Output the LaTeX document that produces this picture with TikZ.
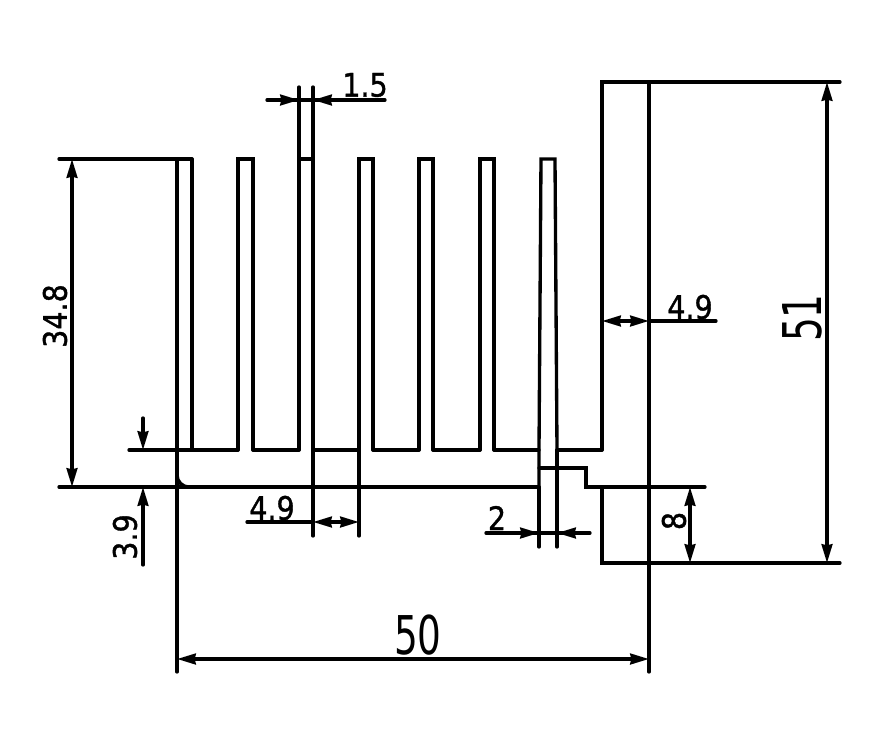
\documentclass[tikz,border=0pt]{standalone}
\usepackage{fontspec}
\setsansfont{DejaVu Sans}
\newfontfamily\dimfont[FakeBold=1.2]{DejaVu Sans}
\usetikzlibrary{arrows.meta}

\begin{document}
\begin{tikzpicture}[x=0.03cm,y=-0.03cm,
			line width=1mm,
			line cap=round,
			>={Stealth[length=5.6mm,width=3.2mm,inset=0.3mm]},
			dimlabel/.style={
				font = \dimfont\fontsize{23}{23}\selectfont,
				inner sep = 0mm,
				xscale = 1.06,
				yscale = 1.2,
				color = black},
			dimlabelup/.style={rotate = 90, dimlabel},
			biglabel/.style={
				font = \sffamily\fontsize{38}{38}\selectfont,
				inner sep = 0mm,
				xscale = 0.84,
				yscale = 1.2,
				color = black},
			biglabelup/.style={rotate = 90, biglabel}]
			\useasboundingbox (0, 0) rectangle (890, 752);
			% fins
			\foreach \l/\r in {238/253, 359/373, 419/433, 480/494}{
				\draw (\l, 450) -- (\l, 159) -- (\r, 159) -- (\r, 450);
			}
			\draw (192, 450) -- (192, 159);
			\draw (299, 159) -- (313, 159);
			\draw (539, 487) -- (539, 450) -- (541, 159) -- (555, 159) -- (557, 450);
			% base between the fins
			\draw (129, 450) -- (238, 450);
			\foreach \l/\r in {253/299, 313/359, 373/419, 433/480, 494/539, 557/602}{
				\draw (\l, 450) -- (\r, 450);
			}
			\draw (59, 487) -- (539, 487);
			\draw (177, 475) arc [start angle = 180, end angle = 90, radius = 12];
			\draw (539, 468) -- (586, 468) -- (586, 487) -- (705, 487);
			% right block
			\draw (602, 450) -- (602, 82) -- (840, 82);
			\draw (602, 487) -- (602, 563) -- (840, 563);
			% long extension lines
			\draw (59, 159) -- (192, 159);
			\draw (177, 159) -- (177, 672);
			\draw (649, 82) -- (649, 672);
			\draw (299, 87) -- (299, 450);
			\draw (313, 87) -- (313, 536);
			\draw (359, 450) -- (359, 536);
			\draw (539, 487) -- (539, 547);
			\draw (557, 450) -- (557, 547);
			% dimensions
			\draw (267, 100) -- (385, 100);
			\draw[->] (270, 100) -- (299, 100);
			\draw[->] (380, 100) -- (313, 100);
			\draw[->] (72, 323) -- (72, 159);
			\draw[->] (72, 323) -- (72, 487);
			\draw[->] (143, 418) -- (143, 450);
			\draw[->] (143, 565) -- (143, 487);
			\draw (247, 522) -- (313, 522);
			\draw[->] (336, 522) -- (313, 522);
			\draw[->] (336, 522) -- (359, 522);
			\draw (486, 533) -- (590, 533);
			\draw[->] (490, 533) -- (539, 533);
			\draw[->] (586, 533) -- (557, 533);
			\draw (649, 321) -- (716, 321);
			\draw[->] (625, 321) -- (602, 321);
			\draw[->] (625, 321) -- (649, 321);
			\draw[->] (690, 525) -- (690, 487);
			\draw[->] (690, 525) -- (690, 563);
			\draw[->] (827, 322) -- (827, 82);
			\draw[->] (827, 322) -- (827, 563);
			\draw[->] (413, 659) -- (177, 659);
			\draw[->] (413, 659) -- (649, 659);
			% labels
			\node (lblfin) at (365, 85) [dimlabel] {1.5};
			\node (lblheight) at (55, 316) [dimlabelup] {34.8};
			\node (lblbase) at (125, 537) [dimlabelup] {3.9};
			\node (lblpitch) at (272, 508) [dimlabel] {4.9};
			\node (lblstep) at (497, 518) [dimlabel] {2};
			\node (lblwall) at (690, 307) [dimlabel] {4.9};
			\node (lblfoot) at (674, 521) [dimlabelup] {8};
			\node (lbltotal) at (802, 318) [biglabelup] {51};
			\node (lblwidth) at (418, 635) [biglabel] {50};
			\end{tikzpicture}
\end{document}
